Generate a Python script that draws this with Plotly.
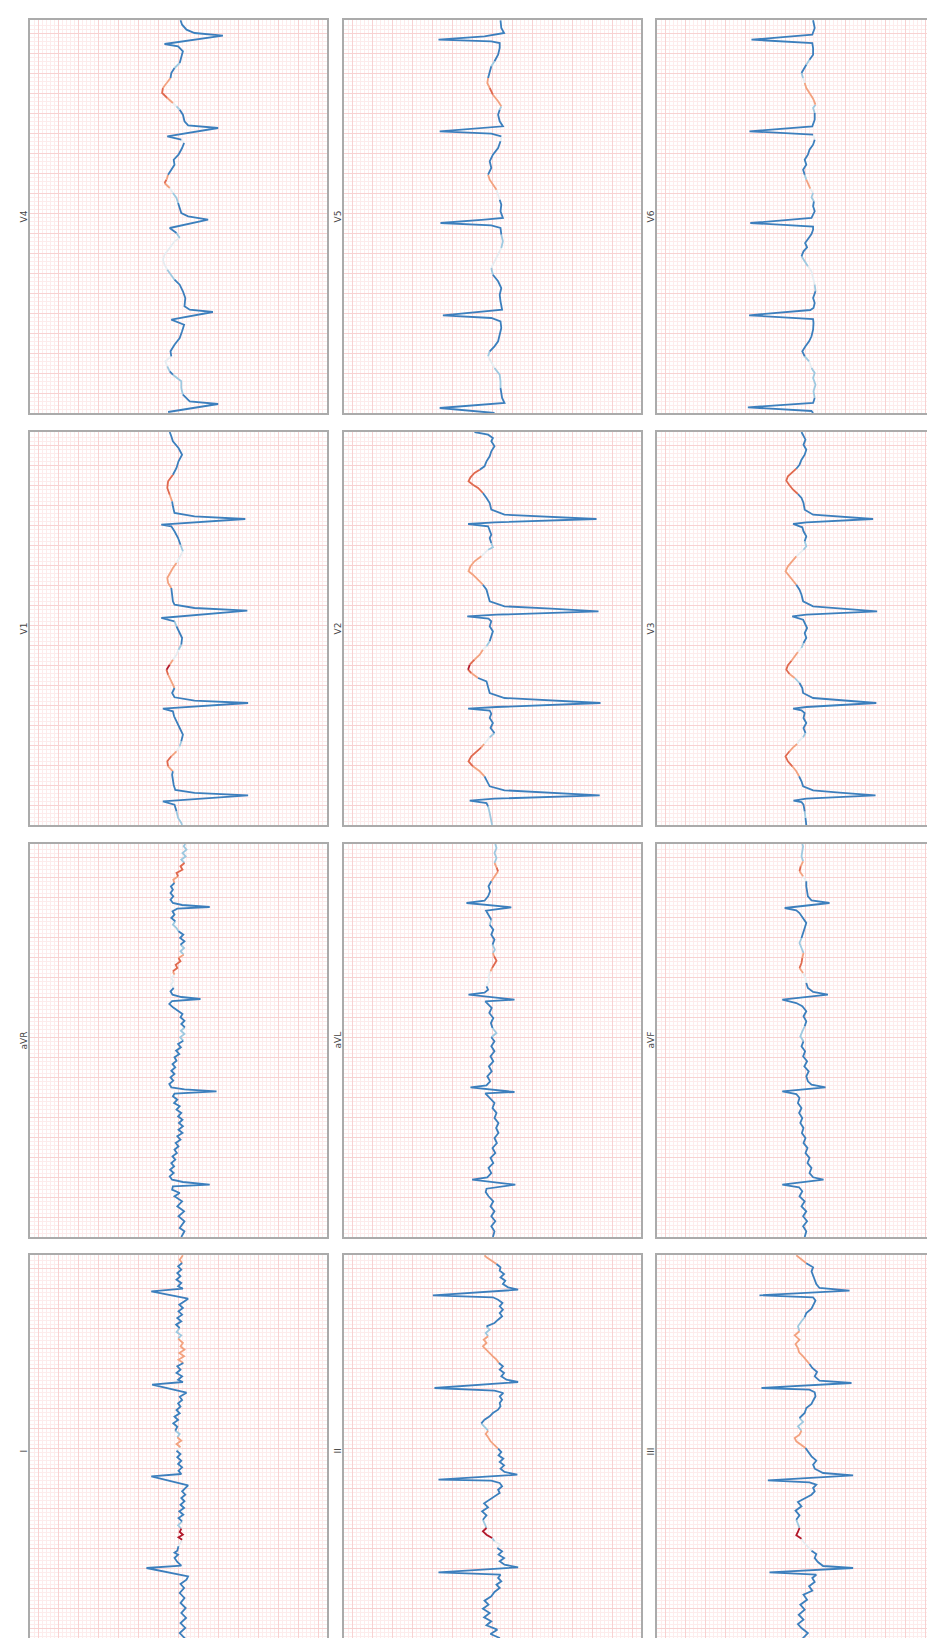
import plotly.graph_objects as go

# Each lead: (time s, amplitude mV, attribution score)
# attribution: -1 strong blue, -0.5 light blue, 0 neutral, 0.5 light orange, 0.75 orange-red, 1 dark red
V4 = [(0.01,0.26,-1),(0.09,-0.99,-1),(0.117,-0.28,-1),(0.183,-0.11,-.5),(0.25,-0.07,-.5),(0.317,-0.07,-.5),(0.383,0.14,-1),(0.417,0.22,-.5),(0.467,0.28,0),(0.517,0.33,0),(0.567,0.18,-1),(0.617,0.20,-1),(0.683,0.10,-1),(0.75,-0.03,-1),(0.817,-0.09,-1),(0.883,-0.14,-1),(0.933,0.18,-1),(1.01,-0.86,-1),(1.033,-0.28,-1),(1.067,-0.15,-1),(1.15,-0.17,-1),(1.217,-0.11,-1),(1.283,-0.03,-1),(1.333,0.10,-.5),(1.383,0.20,-.5),(1.433,0.28,0),(1.483,0.35,0),(1.533,0.39,0),(1.583,0.35,0),(1.65,0.22,0),(1.717,0.10,0),(1.75,-0.03,-.5),(1.80,0.05,-1),(1.85,0.22,-1),(1.933,-0.74,-1),(1.967,-0.24,-1),(2.0,-0.07,-1),(2.05,-0.03,-1),(2.10,0.01,-.5),(2.15,0.05,-.5),(2.20,0.14,0),(2.25,0.22,.5),(2.30,0.35,.75),(2.333,0.30,.5),(2.383,0.26,-1),(2.433,0.18,-1),(2.483,0.10,-1),(2.533,0.12,-1),(2.583,0.0,-1),(2.65,-0.09,-1),(2.70,-0.14,0),(2.733,-0.07,-1),(2.767,0.28,-1),(2.85,-0.99,-1),(2.877,-0.24,-1),(2.917,-0.15,-1),(2.983,-0.11,-1),(3.033,-0.03,-.5),(3.067,0.05,0),(3.10,0.14,.5),(3.15,0.28,.75),(3.20,0.41,.75),(3.25,0.39,.5),(3.30,0.30,.5),(3.35,0.20,-1),(3.40,0.18,-1),(3.45,0.10,-.5),(3.50,-0.03,-1),(3.55,-0.07,-1),(3.617,-0.11,-1),(3.667,0.01,-1),(3.69,0.35,-1),(3.773,-1.11,-1),(3.80,-0.40,-1),(3.833,-0.20,-1),(3.883,-0.09,-1),(3.927,-0.05,-1)]

V1 = [(0.0,-0.09,-.5),(0.02,-0.07,-.5),(0.07,0.01,-.5),(0.137,0.05,-1),(0.203,0.10,-1),(0.237,0.39,-1),(0.297,-1.74,-1),(0.322,-0.40,-1),(0.35,0.08,-1),(0.40,0.12,-1),(0.453,0.14,-1),(0.503,0.16,-1),(0.537,0.14,.5),(0.587,0.26,.75),(0.637,0.28,.75),(0.687,0.18,.5),(0.737,0.05,0),(0.787,-0.03,-.5),(0.837,-0.07,-1),(0.903,-0.11,-1),(0.97,-0.03,-1),(1.037,0.05,-1),(1.087,0.11,-1),(1.137,0.14,-1),(1.163,0.39,-1),(1.22,-1.74,-1),(1.243,-0.40,-1),(1.277,0.10,-1),(1.32,0.16,-1),(1.37,0.10,.5),(1.437,0.18,.5),(1.503,0.26,.75),(1.553,0.30,1),(1.603,0.22,.5),(1.653,0.14,0),(1.703,0.05,0),(1.753,0.0,-.5),(1.803,-0.07,-1),(1.87,-0.09,-1),(1.92,-0.03,-1),(1.987,0.05,-.5),(2.037,0.10,-1),(2.07,0.43,-1),(2.143,-1.72,-1),(2.17,-0.40,-1),(2.203,0.10,-1),(2.237,0.14,-1),(2.303,0.16,-1),(2.37,0.18,.5),(2.42,0.26,.5),(2.47,0.28,.5),(2.52,0.22,.5),(2.57,0.14,.5),(2.62,0.05,0),(2.687,-0.03,0),(2.737,-0.11,-.5),(2.803,-0.05,-1),(2.87,0.01,-1),(2.937,0.10,-1),(2.987,0.18,-1),(3.003,0.43,-1),(3.06,-1.67,-1),(3.087,-0.40,-1),(3.12,0.10,-1),(3.187,0.14,-1),(3.237,0.16,.5),(3.303,0.22,.75),(3.37,0.28,.75),(3.437,0.26,.75),(3.503,0.14,-1),(3.57,0.05,-1),(3.637,0.0,-1),(3.703,-0.09,-1),(3.77,0.0,-1),(3.837,0.14,-1),(3.887,0.18,-1),(3.93,0.22,-1)]

aVR = [(0,-0.07,-1),(0.057,-0.15,-1),(0.09,-0.03,-1),(0.157,-0.15,-1),(0.207,0.0,-1),(0.257,-0.14,-1),(0.307,0.03,-1),(0.357,-0.09,-1),(0.407,0.10,-1),(0.44,-0.03,-1),(0.473,0.16,-1),(0.507,0.14,-1),(0.523,-0.78,-1),(0.55,-0.11,-1),(0.573,0.16,-1),(0.607,0.22,-1),(0.64,0.12,-1),(0.673,0.21,-1),(0.707,0.11,-1),(0.74,0.18,-1),(0.773,0.08,-1),(0.807,0.15,-1),(0.84,0.04,-1),(0.873,0.10,-1),(0.907,0.0,-1),(0.94,0.07,-1),(0.973,-0.05,-1),(1.007,0.03,-1),(1.04,-0.10,-1),(1.073,0.0,-1),(1.107,-0.11,-1),(1.14,-0.01,-1),(1.173,-0.10,-1),(1.207,0.01,-1),(1.24,-0.07,-1),(1.273,0.05,-1),(1.307,-0.03,-1),(1.34,0.11,-1),(1.373,0.03,-1),(1.407,0.14,-1),(1.433,0.10,-1),(1.457,-0.95,-1),(1.477,-0.15,-1),(1.497,0.18,-1),(1.53,0.23,-1),(1.563,0.13,-1),(1.597,0.20,-1),(1.63,0.10,-1),(1.663,0.18,-1),(1.697,0.08,-1),(1.73,0.15,-1),(1.763,0.05,-1),(1.797,0.10,-1),(1.83,-0.02,-1),(1.863,0.06,-1),(1.897,-0.06,-1),(1.93,0.01,-1),(1.963,-0.12,-.5),(1.997,-0.04,-.5),(2.03,-0.15,-.5),(2.063,-0.06,-.5),(2.097,-0.16,-1),(2.13,-0.07,-1),(2.163,-0.15,-1),(2.197,-0.05,-1),(2.23,-0.10,-1),(2.263,0.03,-1),(2.297,0.14,-1),(2.33,0.23,-1),(2.36,0.16,-1),(2.38,-0.55,-1),(2.40,-0.07,-1),(2.423,0.15,-1),(2.457,0.20,-1),(2.49,0.12,0),(2.523,0.19,0),(2.557,0.13,0),(2.59,0.18,0),(2.623,0.10,.5),(2.657,0.14,.75),(2.69,0.03,.75),(2.723,0.07,.75),(2.757,-0.05,.75),(2.79,0.0,.5),(2.823,-0.13,-.5),(2.857,-0.05,-.5),(2.89,-0.14,-.5),(2.923,-0.05,-1),(2.957,-0.15,-1),(2.99,-0.04,-1),(3.023,-0.12,-1),(3.057,0.0,-.5),(3.09,0.05,-.5),(3.123,0.14,-.5),(3.157,0.08,-1),(3.19,0.18,-1),(3.223,0.10,-1),(3.257,0.15,-1),(3.283,0.03,-1),(3.30,-0.78,-1),(3.32,-0.09,-1),(3.34,0.14,-1),(3.373,0.20,-1),(3.407,0.13,-1),(3.44,0.20,-1),(3.473,0.14,-1),(3.507,0.19,-1),(3.54,0.10,.5),(3.573,0.13,.5),(3.607,0.01,.75),(3.64,0.05,.75),(3.673,-0.10,.75),(3.707,-0.05,.75),(3.74,-0.15,-.5),(3.773,-0.07,-.5),(3.807,-0.18,-.5),(3.84,-0.10,-.5),(3.873,-0.20,-.5),(3.907,-0.13,-.5),(3.93,-0.17,-.5)]

I = [(0,-0.11,-1),(0.05,0.0,-1),(0.10,-0.15,-1),(0.15,-0.03,-1),(0.20,-0.17,-1),(0.25,-0.05,-1),(0.30,-0.19,-1),(0.35,-0.07,-1),(0.40,-0.18,-1),(0.45,-0.05,-1),(0.50,-0.15,-1),(0.55,-0.03,-1),(0.60,-0.14,-1),(0.64,-0.05,-1),(0.683,-0.20,-1),(0.717,-0.24,-1),(0.80,0.80,-1),(0.823,-0.07,-1),(0.86,0.03,-1),(0.90,0.10,-1),(0.933,0.01,-1),(0.953,0.10,-1),(0.973,0.03,-1),(1.017,0.0,0),(1.06,-0.05,0),(1.083,-0.09,1),(1.107,0.0,1),(1.133,-0.11,1),(1.16,-0.03,1),(1.193,-0.07,-.5),(1.227,0.01,-.5),(1.267,-0.09,-1),(1.30,0.0,-1),(1.333,-0.12,-1),(1.367,-0.02,-1),(1.40,-0.14,-1),(1.433,-0.05,-1),(1.467,-0.15,-1),(1.50,-0.07,-1),(1.533,-0.17,-1),(1.567,-0.09,-1),(1.627,-0.24,-1),(1.717,0.68,-1),(1.74,-0.07,-1),(1.773,0.0,-1),(1.807,-0.09,-1),(1.84,0.01,-1),(1.873,-0.07,-1),(1.907,0.03,-1),(1.94,-0.05,-1),(1.973,0.05,0),(2.007,-0.05,.5),(2.04,0.05,.5),(2.073,-0.07,.5),(2.107,0.03,-.5),(2.14,-0.03,-.5),(2.173,0.08,-1),(2.213,0.03,-1),(2.247,0.13,-1),(2.28,0.01,-1),(2.313,0.10,-1),(2.347,-0.03,-1),(2.38,0.05,-1),(2.413,-0.05,-1),(2.447,0.01,-1),(2.48,-0.09,-1),(2.513,-0.03,-1),(2.553,-0.20,-1),(2.633,0.66,-1),(2.66,-0.11,-1),(2.683,0.01,-1),(2.717,-0.09,-1),(2.75,0.05,-1),(2.783,-0.05,-1),(2.817,0.03,-1),(2.85,-0.12,.5),(2.883,0.0,.5),(2.917,-0.14,.5),(2.95,-0.02,.5),(2.983,-0.15,.5),(3.017,-0.05,.5),(3.05,-0.11,.5),(3.093,0.01,-.5),(3.127,-0.07,-.5),(3.16,0.05,-.5),(3.20,-0.03,-1),(3.233,0.06,-1),(3.267,-0.07,-1),(3.30,0.03,-1),(3.333,-0.09,-1),(3.367,0.0,-1),(3.40,-0.11,-1),(3.433,-0.02,-1),(3.467,-0.15,-1),(3.493,-0.24,-1),(3.567,0.68,-1),(3.593,-0.11,-1),(3.617,0.01,-1),(3.65,-0.07,-1),(3.683,0.05,-1),(3.717,-0.05,-1),(3.75,0.03,-1),(3.783,-0.07,-1),(3.817,0.01,-1),(3.85,-0.09,.5),(3.883,-0.03,.5),(3.927,-0.11,.5)]

V5 = [(0,-0.05,-1),(0.05,1.32,-1),(0.10,-0.30,-1),(0.15,-0.24,-1),(0.25,-0.20,-.5),(0.317,-0.20,-.5),(0.383,-0.18,-.5),(0.45,-0.05,0),(0.517,0.03,0),(0.567,0.11,-.5),(0.617,0.07,-1),(0.667,-0.05,-1),(0.717,-0.14,-1),(0.783,-0.18,-1),(0.85,-0.22,-1),(0.917,-0.20,-1),(0.95,0.03,-1),(0.977,1.24,-1),(1.017,0.20,-1),(1.033,-0.24,-1),(1.117,-0.20,-1),(1.183,-0.18,-1),(1.25,-0.22,-1),(1.317,-0.14,-1),(1.383,-0.01,-.5),(1.45,0.03,0),(1.517,-0.05,0),(1.583,-0.14,0),(1.65,-0.22,-.5),(1.717,-0.26,-.5),(1.783,-0.22,-1),(1.85,-0.20,-1),(1.877,0.03,-1),(1.90,1.30,-1),(1.933,0.20,-1),(1.95,-0.26,-1),(2.017,-0.20,-1),(2.083,-0.22,-1),(2.133,-0.18,0),(2.183,-0.14,0),(2.233,-0.10,.5),(2.283,-0.01,.5),(2.333,0.07,.5),(2.383,0.11,-1),(2.45,0.03,-1),(2.517,0.07,-1),(2.583,-0.01,-1),(2.65,-0.14,-1),(2.717,-0.20,0),(2.767,-0.22,-1),(2.793,0.03,-1),(2.817,1.32,-1),(2.85,0.20,-1),(2.867,-0.26,-1),(2.917,-0.18,-1),(2.983,-0.14,-1),(3.033,-0.18,-.5),(3.067,-0.22,.5),(3.117,-0.14,.5),(3.183,-0.01,.75),(3.25,0.07,.5),(3.30,0.13,.5),(3.35,0.11,-1),(3.417,0.07,-1),(3.467,0.03,-.5),(3.517,-0.05,-1),(3.583,-0.14,-1),(3.65,-0.18,-1),(3.70,-0.18,-1),(3.717,0.03,-1),(3.733,1.35,-1),(3.767,0.20,-1),(3.80,-0.29,-1),(3.85,-0.22,-1),(3.927,-0.20,-1)]

V2 = [(0.0,0.01,-.5),(0.053,0.03,-.5),(0.12,0.07,-.5),(0.187,0.11,-1),(0.22,0.15,-1),(0.243,0.57,-1),(0.263,-0.05,-1),(0.297,-2.68,-1),(0.323,-1.47,-1),(0.347,-0.30,-1),(0.387,0.07,-1),(0.437,0.13,-1),(0.487,0.20,.5),(0.537,0.32,.5),(0.587,0.49,.75),(0.637,0.60,.75),(0.687,0.53,.75),(0.737,0.40,.75),(0.777,0.28,.5),(0.81,0.21,0),(0.843,0.15,0),(0.877,0.07,-.5),(0.92,-0.05,-1),(0.97,0.05,-1),(1.02,-0.01,-1),(1.07,0.07,-1),(1.113,0.03,-1),(1.143,0.07,-1),(1.163,0.61,-1),(1.18,-0.10,-1),(1.22,-2.70,-1),(1.247,-1.47,-1),(1.27,-0.30,-1),(1.32,0.07,-1),(1.37,0.11,-1),(1.437,0.15,-1),(1.47,0.36,.5),(1.52,0.53,.75),(1.553,0.61,1),(1.603,0.57,.75),(1.653,0.45,.5),(1.703,0.32,.5),(1.753,0.24,0),(1.787,0.15,-.5),(1.837,0.07,-1),(1.887,0.03,-1),(1.937,-0.01,-1),(1.987,0.07,-1),(2.037,0.03,-1),(2.063,0.10,-1),(2.087,0.63,-1),(2.103,-0.10,-1),(2.137,-2.65,-1),(2.163,-1.47,-1),(2.187,-0.30,-1),(2.237,0.07,-1),(2.303,0.11,-1),(2.353,0.15,-1),(2.403,0.24,.5),(2.453,0.36,.5),(2.503,0.49,.5),(2.537,0.60,.5),(2.587,0.55,.5),(2.637,0.45,.5),(2.687,0.28,0),(2.72,0.20,0),(2.753,0.11,-.5),(2.777,-0.01,-.5),(2.82,0.03,-1),(2.87,0.07,-1),(2.903,0.03,-1),(2.953,0.07,-1),(2.987,0.11,-1),(3.01,0.61,-1),(3.027,-0.05,-1),(3.06,-2.60,-1),(3.083,-1.47,-1),(3.103,-0.30,-1),(3.153,0.03,-1),(3.22,0.07,-1),(3.27,0.15,-1),(3.32,0.24,.75),(3.37,0.36,.75),(3.403,0.49,.75),(3.437,0.60,.75),(3.477,0.55,.75),(3.52,0.45,.75),(3.553,0.32,-1),(3.587,0.20,-1),(3.637,0.15,-1),(3.687,0.07,-1),(3.737,0.03,-1),(3.787,-0.05,-1),(3.837,0.03,-1),(3.87,-0.01,-1),(3.903,0.11,-1),(3.93,0.45,-1)]

aVL = [(0,-0.01,-1),(0.057,-0.05,-1),(0.107,0.03,-1),(0.157,-0.07,-1),(0.207,0.03,-1),(0.257,-0.05,-1),(0.307,0.05,-1),(0.357,-0.02,-1),(0.407,0.10,-1),(0.45,0.17,-1),(0.483,0.15,-1),(0.523,-0.57,-1),(0.573,0.51,-1),(0.597,0.13,-1),(0.64,0.03,-1),(0.69,0.10,-1),(0.74,-0.02,-1),(0.79,0.05,-1),(0.84,-0.07,-1),(0.89,0.0,-1),(0.94,-0.11,-1),(0.99,-0.05,-1),(1.04,-0.15,-1),(1.09,-0.09,-1),(1.14,-0.15,-1),(1.19,-0.05,-1),(1.24,-0.10,-1),(1.29,0.0,-1),(1.34,-0.05,-1),(1.38,0.05,-1),(1.413,0.11,-1),(1.437,0.18,-1),(1.45,-0.55,-1),(1.497,0.55,-1),(1.517,0.15,-1),(1.557,0.06,-1),(1.607,0.13,-1),(1.657,0.02,-1),(1.707,0.09,-1),(1.757,-0.02,-1),(1.807,0.05,-1),(1.857,-0.05,-1),(1.907,0.03,-1),(1.957,-0.05,-1),(1.997,0.03,-.5),(2.04,-0.10,-.5),(2.09,0.0,-1),(2.14,0.04,-1),(2.19,-0.02,-1),(2.24,0.08,-1),(2.29,0.02,-1),(2.33,0.13,-1),(2.357,0.18,-1),(2.373,-0.55,-1),(2.423,0.60,-1),(2.443,0.20,-1),(2.473,0.11,-1),(2.507,0.15,0),(2.557,0.08,0),(2.607,0.10,0),(2.657,0.05,.5),(2.69,0.01,.75),(2.723,-0.05,.75),(2.763,-0.10,.75),(2.807,-0.04,.5),(2.84,-0.01,-.5),(2.873,-0.06,-.5),(2.923,0.0,-1),(2.973,-0.05,-1),(3.023,0.03,-1),(3.073,-0.02,-1),(3.123,0.07,-.5),(3.173,0.03,-1),(3.223,0.11,-1),(3.263,0.16,-1),(3.297,-0.47,-1),(3.34,0.65,-1),(3.363,0.20,-1),(3.407,0.11,-1),(3.457,0.06,-1),(3.507,0.10,-1),(3.557,0.03,.5),(3.607,-0.05,.5),(3.657,-0.14,.75),(3.697,-0.10,.5),(3.74,-0.05,-.5),(3.79,-0.10,-.5),(3.84,-0.05,-.5),(3.89,-0.10,-.5),(3.93,-0.07,-.5)]

II = [(0,-0.14,-1),(0.05,-0.01,-1),(0.10,-0.18,-1),(0.14,0.05,-1),(0.183,-0.12,-1),(0.227,0.15,-1),(0.267,0.03,-1),(0.307,0.21,-1),(0.35,0.07,-1),(0.393,0.24,-1),(0.433,0.10,-1),(0.473,0.20,-1),(0.517,0.03,-1),(0.56,-0.05,-1),(0.60,-0.18,-1),(0.633,-0.10,-1),(0.667,-0.22,-1),(0.70,-0.14,-1),(0.733,-0.20,-1),(0.757,1.35,-1),(0.807,-0.64,-1),(0.833,-0.30,-1),(0.867,-0.18,-1),(0.90,-0.29,-1),(0.933,-0.15,-1),(0.967,-0.24,-1),(1.00,-0.12,0),(1.033,-0.20,0),(1.067,-0.05,-.5),(1.10,0.01,1),(1.133,0.15,1),(1.167,0.24,1),(1.20,0.15,-.5),(1.24,0.20,-.5),(1.283,0.24,-1),(1.327,0.15,-1),(1.367,0.26,-1),(1.407,0.11,-1),(1.447,0.21,-1),(1.483,0.07,-1),(1.517,-0.05,-1),(1.55,-0.18,-1),(1.583,-0.14,-1),(1.617,-0.24,-1),(1.65,-0.18,-1),(1.673,0.03,-1),(1.683,1.35,-1),(1.733,-0.62,-1),(1.76,-0.30,-1),(1.793,-0.20,-1),(1.827,-0.29,-1),(1.86,-0.18,-1),(1.893,-0.27,-1),(1.927,-0.15,-1),(1.96,-0.22,-1),(1.993,-0.14,.5),(2.033,-0.04,.5),(2.067,0.05,.5),(2.107,0.11,.5),(2.14,0.17,.5),(2.173,0.11,-.5),(2.207,0.18,-.5),(2.247,0.28,-1),(2.283,0.20,-1),(2.317,0.07,-1),(2.35,-0.01,-1),(2.383,-0.14,-1),(2.417,-0.20,-1),(2.45,-0.18,-1),(2.483,-0.24,-1),(2.517,-0.18,-1),(2.55,-0.27,-1),(2.573,-0.05,-1),(2.60,1.45,-1),(2.66,-0.64,-1),(2.683,-0.35,-1),(2.717,-0.22,-1),(2.75,-0.29,-1),(2.783,-0.18,-1),(2.817,-0.26,-1),(2.85,-0.16,.5),(2.883,-0.10,.5),(2.917,-0.01,.5),(2.95,0.07,.5),(2.983,0.15,.5),(3.017,0.24,.5),(3.05,0.15,.5),(3.083,0.22,.5),(3.117,0.11,-.5),(3.15,0.17,-.5),(3.183,0.07,-.5),(3.217,0.15,-1),(3.25,-0.05,-1),(3.283,-0.14,-1),(3.317,-0.24,-1),(3.35,-0.18,-1),(3.383,-0.26,-1),(3.417,-0.18,-1),(3.45,-0.25,-1),(3.483,-0.14,-1),(3.507,-0.01,-1),(3.527,1.49,-1),(3.583,-0.64,-1),(3.607,-0.39,-1),(3.64,-0.26,-1),(3.673,-0.32,-1),(3.707,-0.20,-1),(3.74,-0.29,-1),(3.773,-0.18,-1),(3.807,-0.20,-1),(3.84,-0.10,.5),(3.873,0.03,.5),(3.907,0.15,.5),(3.927,0.20,.5)]

V6 = [(0,-0.19,-1),(0.02,-0.15,-1),(0.057,1.44,-1),(0.10,-0.19,-1),(0.15,-0.23,-.5),(0.217,-0.20,-.5),(0.283,-0.25,-.5),(0.35,-0.19,-.5),(0.40,-0.23,-.5),(0.45,-0.15,0),(0.517,-0.09,-.5),(0.567,0.02,-1),(0.617,0.08,-1),(0.667,0.0,-1),(0.717,-0.09,-1),(0.767,-0.15,-1),(0.833,-0.19,-1),(0.90,-0.20,-1),(0.94,-0.19,-1),(0.977,1.41,-1),(1.03,-0.12,-1),(1.05,-0.20,-1),(1.10,-0.23,-1),(1.15,-0.19,-1),(1.217,-0.25,-.5),(1.283,-0.23,0),(1.35,-0.19,0),(1.417,-0.15,0),(1.467,-0.06,-.5),(1.517,0.02,-.5),(1.567,0.10,-1),(1.617,0.05,-1),(1.657,-0.04,-1),(1.70,0.01,-1),(1.75,-0.08,-1),(1.79,-0.15,-1),(1.833,-0.19,-1),(1.865,-0.19,-1),(1.90,1.38,-1),(1.95,-0.15,-1),(2.017,-0.23,-1),(2.067,-0.19,-1),(2.117,-0.21,-.5),(2.157,-0.15,-.5),(2.20,-0.19,0),(2.243,-0.12,.5),(2.29,-0.06,.5),(2.333,-0.02,-.5),(2.383,0.02,-1),(2.433,0.06,-1),(2.483,-0.02,-1),(2.533,0.02,-1),(2.583,-0.06,-1),(2.633,-0.10,-1),(2.683,-0.19,-1),(2.733,-0.23,0),(2.783,-0.19,-1),(2.817,1.40,-1),(2.867,-0.17,-1),(2.933,-0.23,-1),(3.0,-0.23,-.5),(3.05,-0.19,-.5),(3.083,-0.25,.5),(3.143,-0.19,.5),(3.20,-0.10,.5),(3.25,-0.02,.5),(3.30,0.02,0),(3.35,0.06,-.5),(3.40,0.10,-1),(3.45,0.02,-1),(3.483,-0.02,-.5),(3.533,-0.10,-1),(3.583,-0.19,-1),(3.65,-0.19,-1),(3.70,-0.17,-1),(3.733,1.35,-1),(3.783,-0.17,-1),(3.85,-0.23,-1),(3.927,-0.19,-1)]

V3 = [(0,-0.02,-1),(0.07,0.0,-.5),(0.137,0.02,-1),(0.203,0.05,-1),(0.23,0.10,-1),(0.243,0.30,-1),(0.263,-0.02,-1),(0.297,-1.75,-1),(0.323,-0.85,-1),(0.347,-0.19,-1),(0.387,0.06,-1),(0.437,0.10,-1),(0.487,0.16,.5),(0.537,0.23,.5),(0.587,0.33,.75),(0.637,0.44,.75),(0.687,0.50,.75),(0.737,0.40,.5),(0.777,0.31,.5),(0.81,0.21,0),(0.843,0.16,0),(0.877,0.06,-.5),(0.92,0.0,-1),(0.97,0.05,-1),(1.02,-0.02,-1),(1.07,0.05,-1),(1.12,0.02,-1),(1.147,0.10,-1),(1.163,0.31,-1),(1.18,-0.02,-1),(1.22,-1.77,-1),(1.247,-0.85,-1),(1.27,-0.19,-1),(1.32,0.06,-1),(1.37,0.08,-1),(1.42,0.15,-.5),(1.47,0.27,.5),(1.51,0.40,.75),(1.553,0.48,.75),(1.597,0.44,.75),(1.643,0.35,.5),(1.687,0.27,.5),(1.73,0.19,0),(1.77,0.10,-.5),(1.82,0.05,-1),(1.87,-0.02,-1),(1.92,0.02,-1),(1.97,-0.04,-1),(2.02,0.02,-1),(2.053,0.06,-1),(2.087,0.33,-1),(2.103,-0.02,-1),(2.137,-1.79,-1),(2.163,-0.85,-1),(2.187,-0.19,-1),(2.237,0.06,-1),(2.303,0.10,-1),(2.353,0.15,-1),(2.403,0.23,.5),(2.453,0.33,.5),(2.503,0.44,.5),(2.537,0.50,.5),(2.587,0.44,.5),(2.637,0.33,.5),(2.687,0.23,0),(2.72,0.15,0),(2.753,0.05,-.5),(2.787,-0.02,-.5),(2.837,0.02,-1),(2.887,-0.02,-1),(2.937,0.05,-1),(2.977,0.08,-1),(3.01,0.31,-1),(3.027,-0.02,-1),(3.06,-1.69,-1),(3.083,-0.85,-1),(3.103,-0.19,-1),(3.153,0.02,-1),(3.22,0.05,-1),(3.27,0.10,-1),(3.31,0.19,.75),(3.353,0.31,.75),(3.403,0.41,.75),(3.443,0.48,.75),(3.487,0.44,.75),(3.53,0.33,.75),(3.563,0.23,-1),(3.603,0.15,-1),(3.653,0.10,-1),(3.703,0.02,-1),(3.753,-0.02,-1),(3.803,0.05,-1),(3.853,0.0,-1),(3.903,0.06,-1),(3.93,0.10,-1)]

aVF = [(0,0.02,-1),(0.057,-0.02,-1),(0.107,0.06,-1),(0.157,-0.04,-1),(0.207,0.06,-1),(0.257,-0.02,-1),(0.307,0.10,-1),(0.357,0.02,-1),(0.407,0.15,-1),(0.457,0.08,-1),(0.497,0.16,-1),(0.523,0.58,-1),(0.573,-0.45,-1),(0.597,-0.19,-1),(0.64,-0.10,-1),(0.69,-0.15,-1),(0.74,-0.05,-1),(0.79,-0.10,-1),(0.84,0.0,-1),(0.89,-0.05,-1),(0.94,0.05,-1),(0.99,0.0,-1),(1.04,0.09,-1),(1.09,0.05,-1),(1.14,0.13,-1),(1.19,0.08,-1),(1.24,0.16,-1),(1.29,0.10,-1),(1.34,0.19,-1),(1.39,0.15,-1),(1.43,0.23,-1),(1.457,0.58,-1),(1.497,-0.50,-1),(1.523,-0.15,-1),(1.557,-0.06,-1),(1.607,-0.02,-1),(1.657,-0.08,-1),(1.707,0.03,-1),(1.757,-0.04,-1),(1.807,0.06,-1),(1.857,0.01,-1),(1.907,0.10,-1),(1.957,0.05,-.5),(2.007,0.13,-.5),(2.057,0.08,-.5),(2.107,0.02,-1),(2.157,-0.02,-1),(2.207,0.05,-1),(2.257,-0.02,-1),(2.307,0.08,-1),(2.34,0.23,-1),(2.373,0.58,-1),(2.423,-0.56,-1),(2.45,-0.19,-1),(2.49,-0.06,-1),(2.54,-0.02,0),(2.59,0.0,0),(2.64,0.06,.5),(2.69,0.15,.75),(2.74,0.10,.75),(2.79,0.08,.5),(2.84,0.05,-.5),(2.89,0.10,-.5),(2.94,0.15,-.5),(2.99,0.10,-1),(3.04,0.05,-1),(3.09,0.02,-1),(3.14,-0.02,-1),(3.19,0.06,-1),(3.24,0.15,-1),(3.267,0.23,-1),(3.29,0.52,-1),(3.34,-0.60,-1),(3.367,-0.15,-1),(3.407,-0.06,-1),(3.457,-0.04,-1),(3.507,-0.02,-1),(3.557,-0.02,0),(3.607,0.06,.5),(3.657,0.15,.75),(3.707,0.12,.5),(3.757,0.06,-.5),(3.807,0.10,-.5),(3.857,0.08,-.5),(3.907,0.06,-.5),(3.93,0.08,-.5)]

III = [(0,-0.10,-1),(0.05,-0.04,-1),(0.10,0.06,-1),(0.15,-0.06,-1),(0.20,0.10,-1),(0.24,0.19,-1),(0.283,0.05,-1),(0.333,0.17,-1),(0.383,0.02,-1),(0.433,0.13,-1),(0.483,-0.04,-1),(0.533,0.05,-1),(0.573,-0.17,-1),(0.617,-0.09,-1),(0.66,-0.23,-1),(0.70,-0.17,-1),(0.733,-0.27,-1),(0.757,0.90,-1),(0.80,-1.19,-1),(0.82,-0.44,-1),(0.86,-0.31,-1),(0.90,-0.23,-1),(0.94,-0.27,-1),(0.973,-0.15,0),(1.017,-0.04,0),(1.06,0.05,0),(1.093,0.10,1),(1.127,0.23,1),(1.16,0.19,1),(1.20,0.15,-.5),(1.24,0.19,-.5),(1.283,0.23,-1),(1.327,0.15,-1),(1.373,0.25,-1),(1.417,0.10,-1),(1.46,0.19,-1),(1.50,0.02,-1),(1.533,-0.15,-1),(1.567,-0.23,-1),(1.60,-0.19,-1),(1.633,-0.27,-1),(1.657,-0.10,-1),(1.677,0.94,-1),(1.727,-1.19,-1),(1.75,-0.44,-1),(1.793,-0.23,-1),(1.833,-0.19,-1),(1.873,-0.27,-1),(1.917,-0.15,-1),(1.96,-0.06,-1),(2.0,0.0,.5),(2.033,0.10,.5),(2.067,0.23,.5),(2.10,0.27,.5),(2.133,0.15,.5),(2.173,0.10,-.5),(2.217,0.19,-.5),(2.26,0.06,-.5),(2.30,0.15,-1),(2.35,0.02,-1),(2.40,-0.02,-1),(2.44,-0.15,-1),(2.473,-0.19,-1),(2.517,-0.25,-1),(2.557,-0.23,-1),(2.583,-0.10,-1),(2.60,1.10,-1),(2.65,-1.15,-1),(2.673,-0.35,-1),(2.717,-0.23,-1),(2.76,-0.29,-1),(2.80,-0.17,-1),(2.84,-0.10,.5),(2.88,-0.02,.5),(2.917,0.06,.5),(2.957,0.16,.5),(3.0,0.19,.5),(3.04,0.25,.5),(3.083,0.15,.5),(3.127,0.27,.5),(3.167,0.15,-.5),(3.217,0.19,-.5),(3.267,0.10,-.5),(3.307,0.02,-1),(3.35,-0.02,-1),(3.393,-0.15,-1),(3.433,-0.19,-1),(3.473,-0.25,-1),(3.507,-0.19,-1),(3.527,1.15,-1),(3.573,-1.10,-1),(3.60,-0.35,-1),(3.64,-0.27,-1),(3.683,-0.23,-1),(3.727,-0.19,-1),(3.767,-0.15,-1),(3.807,-0.19,-1),(3.847,-0.02,.5),(3.883,0.10,.5),(3.927,0.23,.5)]

GRID_ROWS = [["V4", "V5", "V6"], ["V1", "V2", "V3"], ["aVR", "aVL", "aVF"], ["I", "II", "III"]]
LEAD_DATA = {"V4": V4, "V5": V5, "V6": V6, "V1": V1, "V2": V2, "V3": V3,
             "aVR": aVR, "aVL": aVL, "aVF": aVF, "I": I, "II": II, "III": III}

ATTR_COLORS = {-1: "#3c7fbd", -0.5: "#9ec9e0", 0: "#e6edf1", 0.5: "#f3a27f", 0.75: "#e0694e", 1: "#b2182b"}

W, H = 935, 1638
COL_LEFT = [22, 336, 649]
PANEL_W = 297
ROW_TOP = [12, 424, 836, 1247]
PANEL_H = 393
MV_PER_PX = 1 / 40.0
S_PER_PX = 1 / 100.0

fig = go.Figure()
layout = dict(width=W, height=H, margin=dict(l=0, r=0, t=0, b=0),
              paper_bgcolor="white", plot_bgcolor="white", showlegend=False)
annotations = []

MAJOR = "#f8d2d2"
MINOR = "#fdecec"
BORDER = "#ababab"

k = 0
for r, row in enumerate(GRID_ROWS):
    for c, name in enumerate(row):
        k += 1
        xl, xr = COL_LEFT[c], COL_LEFT[c] + PANEL_W
        yt, yb = ROW_TOP[r], ROW_TOP[r] + PANEL_H
        vis_r = min(xr, W)
        vis_b = min(yb, H)
        cx = (xl + xr) / 2
        x_range = [(cx - xl) * MV_PER_PX, (cx - vis_r) * MV_PER_PX]
        y_range = [(yb - vis_b) * S_PER_PX, PANEL_H * S_PER_PX]
        xname = "xaxis" if k == 1 else f"xaxis{k}"
        yname = "yaxis" if k == 1 else f"yaxis{k}"
        xref = "x" if k == 1 else f"x{k}"
        yref = "y" if k == 1 else f"y{k}"
        layout[xname] = dict(domain=[xl / W, vis_r / W], range=x_range, anchor=yref,
                             showticklabels=False, ticks="", zeroline=False,
                             showgrid=True, gridcolor=MAJOR, gridwidth=1, tick0=0, dtick=0.5,
                             minor=dict(showgrid=True, gridcolor=MINOR, gridwidth=1, tick0=0, dtick=0.1),
                             showline=True, linecolor=BORDER, linewidth=1.5,
                             mirror=(yb <= H), side="top" if yb > H else "bottom")
        layout[yname] = dict(domain=[1 - vis_b / H, 1 - yt / H], range=y_range, anchor=xref,
                             showticklabels=False, ticks="", zeroline=False,
                             showgrid=True, gridcolor=MAJOR, gridwidth=1, tick0=0, dtick=0.2,
                             minor=dict(showgrid=True, gridcolor=MINOR, gridwidth=1, tick0=0, dtick=0.04),
                             showline=True, linecolor=BORDER, linewidth=1.5,
                             mirror=(xr <= W))
        annotations.append(dict(text=name, x=(xl - 7) / W, y=1 - (yt + yb) / 2 / H,
                                xref="paper", yref="paper", showarrow=False, textangle=-90,
                                xanchor="center", yanchor="middle",
                                font=dict(family="DejaVu Sans", size=9, color="#444444")))

        pts = LEAD_DATA[name]
        tt = [p[0] for p in pts]
        vv = [p[1] for p in pts]
        aa = [p[2] for p in pts]
        groups = {}
        start = 0
        n = len(pts)
        for i in range(1, n + 1):
            if i == n or aa[i] != aa[start]:
                end = min(i, n - 1)
                gx, gy = groups.setdefault(aa[start], ([], []))
                gx.extend(vv[start:end + 1] + [None])
                gy.extend(tt[start:end + 1] + [None])
                start = i
        for key in sorted(groups, key=lambda q: abs(q)):
            gx, gy = groups[key]
            fig.add_trace(go.Scatter(x=gx, y=gy, mode="lines", xaxis=xref, yaxis=yref,
                                     line=dict(color=ATTR_COLORS[key], width=1.8),
                                     hoverinfo="skip", showlegend=False))

layout["annotations"] = annotations
fig.update_layout(**layout)
fig.write_html("out.html")
